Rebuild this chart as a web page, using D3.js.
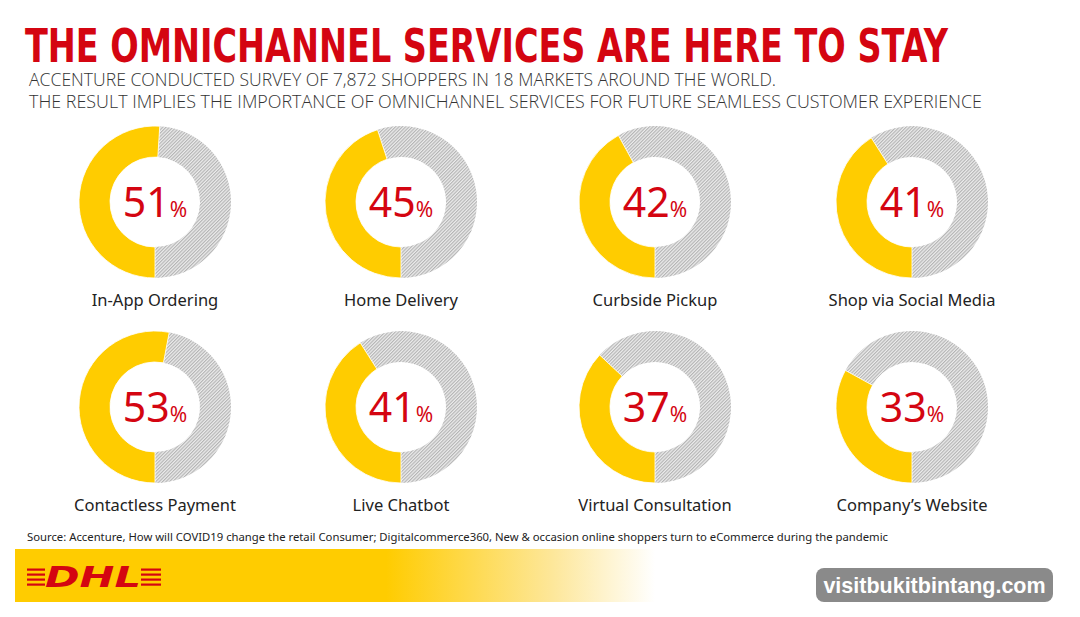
<!DOCTYPE html>
<html><head><meta charset="utf-8">
<script src="https://cdn.jsdelivr.net/npm/d3@7/dist/d3.min.js"></script>
<style>html,body{margin:0;padding:0;background:#fff;}svg{display:block;}</style>
</head><body>
<script>
const categories = ["In-App Ordering","Home Delivery","Curbside Pickup","Shop via Social Media","Contactless Payment","Live Chatbot","Virtual Consultation","Company\u2019s Website"];
const values = [51,45,42,41,53,41,37,33];
const title = "THE OMNICHANNEL SERVICES ARE HERE TO STAY";
const subtitle = ["ACCENTURE CONDUCTED SURVEY OF 7,872 SHOPPERS IN 18 MARKETS AROUND THE WORLD.",
  "THE RESULT IMPLIES THE IMPORTANCE OF OMNICHANNEL SERVICES FOR FUTURE SEAMLESS CUSTOMER EXPERIENCE"];
const source = "Source: Accenture, How will COVID19 change the retail  Consumer; Digitalcommerce360,  New & occasion online shoppers turn to eCommerce during the pandemic";
const watermark = "visitbukitbintang.com";

const W = 1080, H = 617;
const RED = "#d40511", YEL = "#ffcc00";
const svg = d3.select("body").append("svg").attr("width", W).attr("height", H);
const defs = svg.append("defs");

const pat = defs.append("pattern").attr("id","hatch").attr("patternUnits","userSpaceOnUse")
  .attr("width",2.4).attr("height",2.4).attr("patternTransform","rotate(45)");
pat.append("rect").attr("width",2.4).attr("height",2.4).attr("fill","#ececec");
pat.append("line").attr("x1",0.6).attr("y1",0).attr("x2",0.6).attr("y2",2.4)
  .attr("stroke","#acacac").attr("stroke-width",1);

const grad = defs.append("linearGradient").attr("id","band").attr("x1","0").attr("x2","1");
grad.append("stop").attr("offset","0").attr("stop-color",YEL);
grad.append("stop").attr("offset","0.58").attr("stop-color",YEL);
grad.append("stop").attr("offset","0.84").attr("stop-color","#fde79a");
grad.append("stop").attr("offset","1").attr("stop-color","#ffffff");

// Title
svg.append("text").attr("transform","translate(25,62) scale(1,1.28)").text(title)
  .attr("font-family","'DejaVu Sans Condensed','DejaVu Sans',sans-serif").attr("font-weight","bold")
  .attr("font-size",36).attr("fill",RED)
  .attr("textLength",923).attr("lengthAdjust","spacingAndGlyphs");

svg.selectAll("text.sub").data(subtitle).join("text").attr("class","sub")
  .attr("x",29).attr("y",(d,i)=>86+i*22).text(d=>d)
  .attr("font-family","'Open Sans',sans-serif").attr("font-weight",300)
  .attr("font-size",18).attr("fill","#333")
  .attr("textLength",(d,i)=>i?953:747).attr("lengthAdjust","spacingAndGlyphs");

// Layout scales
const colX = d3.scaleOrdinal().domain([0,1,2,3]).range([155,401,655,912]);
const rowY = d3.scaleOrdinal().domain([0,1]).range([202,407]);
const pct = d3.scaleLinear().domain([0,100]).range([0,2*Math.PI]);
const outerR = 76, innerR = 45;
const arc = d3.arc().innerRadius(innerR).outerRadius(outerR);

const g = svg.selectAll("g.donut").data(categories.map((c,i)=>({c, v:values[i], i})))
  .join("g").attr("class","donut")
  .attr("transform",d=>`translate(${colX(d.i%4)},${rowY(Math.floor(d.i/4))})`);

g.append("path").attr("d",d=>arc({startAngle:Math.PI+pct(d.v), endAngle:3*Math.PI}))
  .attr("fill","url(#hatch)");
g.append("path").attr("d",d=>arc({startAngle:Math.PI, endAngle:Math.PI+pct(d.v)}))
  .attr("fill",YEL).attr("stroke","#fff").attr("stroke-width",0.8);

const lab = g.append("text").attr("text-anchor","middle").attr("y",15)
  .attr("font-family","'Noto Sans',sans-serif").attr("fill",RED);
lab.append("tspan").text(d=>d.v).attr("font-size",41);
lab.append("tspan").text("%").attr("font-size",21).attr("dx",0);

g.append("text").attr("text-anchor","middle").attr("y",104).text(d=>d.c)
  .attr("font-family","'Noto Sans',sans-serif").attr("font-size",16.5).attr("fill","#222");

// Source
svg.append("text").attr("x",27).attr("y",541).text(source)
  .attr("font-family","'Noto Sans',sans-serif").attr("font-size",11.2).attr("fill","#222")
  .attr("textLength",861).attr("lengthAdjust","spacingAndGlyphs");

// Banner
svg.append("rect").attr("x",15).attr("y",549).attr("width",640).attr("height",53).attr("fill","url(#band)");

// DHL logo
const logo = svg.append("g").attr("transform","translate(27,565)");
[0,5,10,15].forEach(y=>{
  logo.append("rect").attr("x",0).attr("y",y+3.5).attr("width",18).attr("height",2.2).attr("fill",RED);
  logo.append("rect").attr("x",114).attr("y",y+3.5).attr("width",20).attr("height",2.2).attr("fill",RED);
});
logo.append("text").attr("x",66).attr("y",22).attr("text-anchor","middle").text("DHL")
  .attr("font-family","'DejaVu Sans',sans-serif").attr("font-weight","bold").attr("font-style","italic")
  .attr("font-size",29).attr("fill",RED).attr("textLength",96).attr("lengthAdjust","spacingAndGlyphs");

// Watermark
svg.append("rect").attr("x",816).attr("y",568).attr("width",237).attr("height",34).attr("rx",8)
  .attr("fill","#8a8a8a");
svg.append("text").attr("x",934.5).attr("y",593).attr("text-anchor","middle").text(watermark)
  .attr("font-family","'Liberation Sans',Arial,sans-serif").attr("font-weight","bold")
  .attr("font-size",21.5).attr("fill","#fff");
</script>
</body></html>
